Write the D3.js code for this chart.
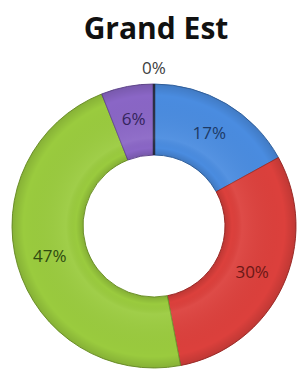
<!DOCTYPE html>
<html>
<head>
<meta charset="utf-8">
<script src="https://cdn.jsdelivr.net/npm/d3@7"></script>
<style>
  body { margin: 0; background: #fff; }
  svg { display: block; }
</style>
</head>
<body>
<div id="chart"></div>
<script>
const title = 'Grand Est'
const categories = ['A', 'B', 'C', 'D', 'E']
const values = [17, 30, 47, 6, 0]
const colors = ['#4a8ce0', '#dc403c', '#9acb3e', '#8a66c6', '#8a66c6']
const labelColors = ['#1d3a66', '#6b1816', '#2f4a10', '#34245c', '#404040']

const width = 298, height = 369
const cx = 154, cy = 226
const outerR = 142, innerR = 71

const svg = d3.select('#chart').append('svg')
    .attr('width', width)
    .attr('height', height)

svg.append('text')
    .attr('x', cx + 2)
    .attr('y', 39)
    .attr('text-anchor', 'middle')
    .style('font-family', 'Open Sans, sans-serif')
    .style('font-weight', 'bold')
    .style('font-size', '30px')
    .style('fill', '#111')
    .text(title)

const defs = svg.append('defs')
// soft bevel across the ring
const grad = defs.append('radialGradient')
    .attr('id', 'bevel')
    .attr('gradientUnits', 'userSpaceOnUse')
    .attr('cx', 0).attr('cy', 0).attr('r', outerR)
grad.selectAll('stop')
    .data([
        [innerR / outerR, '#000', 0.14],
        [innerR / outerR + 0.05, '#000', 0.0],
        [0.62, '#fff', 0.06],
        [0.92, '#000', 0.0],
        [1.0, '#000', 0.13],
    ])
    .enter().append('stop')
    .attr('offset', d => d[0])
    .attr('stop-color', d => d[1])
    .attr('stop-opacity', d => d[2])

const g = svg.append('g').attr('transform', `translate(${cx},${cy})`)

const pie = d3.pie().sort(null).value(d => d.value)
const data = pie(categories.map((c, i) => ({ name: c, value: values[i], i: i })))

const arc = d3.arc().innerRadius(innerR).outerRadius(outerR)
const labelArc = d3.arc().innerRadius((innerR + outerR) / 2 + 2).outerRadius((innerR + outerR) / 2 + 2)
const outsideArc = d3.arc().innerRadius(outerR + 16).outerRadius(outerR + 16)

g.selectAll('.slice')
    .data(data)
    .enter().append('path')
    .attr('class', 'slice')
    .attr('d', arc)
    .style('fill', d => colors[d.data.i])
    .style('stroke', d => d.value === 0 ? '#2b2f45' : d3.color(colors[d.data.i]).darker(0.8))
    .style('stroke-width', d => d.value === 0 ? 2.5 : 1)

g.selectAll('.shade')
    .data(data.filter(d => d.value > 0))
    .enter().append('path')
    .attr('class', 'shade')
    .attr('d', arc)
    .style('fill', 'url(#bevel)')
    .style('pointer-events', 'none')

g.selectAll('.label')
    .data(data)
    .enter().append('text')
    .attr('class', 'label')
    .attr('transform', d => {
        const p = d.value === 0 ? outsideArc.centroid(d) : labelArc.centroid(d)
        return `translate(${p[0]},${p[1]})`
    })
    .attr('text-anchor', 'middle')
    .attr('dy', '0.35em')
    .style('font-family', 'Open Sans, sans-serif')
    .style('font-size', '17px')
    .style('fill', d => labelColors[d.data.i])
    .text(d => d.value + '%')
</script>
</body>
</html>
